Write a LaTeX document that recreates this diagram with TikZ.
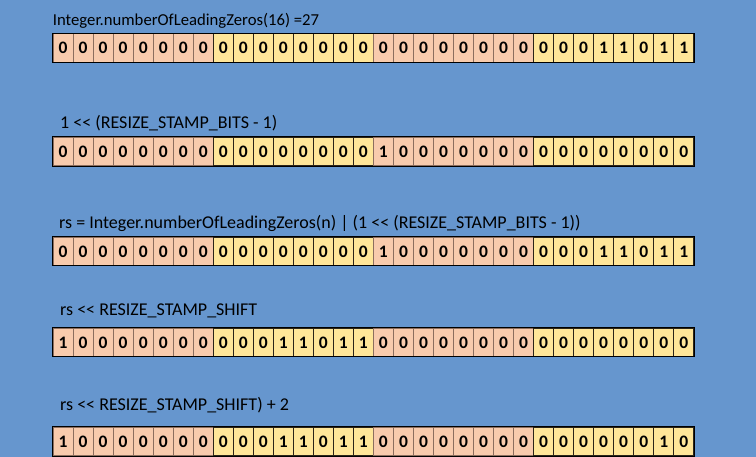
\documentclass[tikz,border=0pt]{standalone}
\usepackage{fontspec}
\setmainfont{Carlito}[Ligatures=TeXOff]
\definecolor{bg}{HTML}{6696CE}
\definecolor{pk}{HTML}{F8CBAD}
\definecolor{yl}{HTML}{FFE699}
\definecolor{pkline}{HTML}{8C6E5E}
\definecolor{ylline}{HTML}{2B2418}
\newcommand\bitrow[3]{%
  \foreach \b [count=\i from 0] in {#3} {
    \pgfmathtruncatemacro\g{mod(floor(\i/8),2)}
    \ifnum\g=0 \def\fc{pk}\def\dc{pkline}\else\def\fc{yl}\def\dc{ylline}\fi
    \node[cell, fill=\fc, draw=\dc] (#1c\i) at ({52.7+20.02*\i},#2) {\b};
  }
  \draw[line width=1pt, black] (#1c0.north west) rectangle (#1c31.south east);
}
\begin{document}
\begin{tikzpicture}[x=1pt,y=-1pt,
  cell/.style={minimum width=20.02pt, minimum height=28.5pt, inner sep=0pt, line width=0.8pt,
    font=\fontsize{17.5}{17.5}\selectfont\bfseries, anchor=north west},
  lab/.style={anchor=base west, inner sep=0pt, font=\fontsize{18}{18}\selectfont}]
\fill[bg] (0,0) rectangle (756,457);
\useasboundingbox (0,0) rectangle (756,457);

\node[lab, font=\fontsize{16.7}{17}\selectfont] (l1) at (52.7,26) {Integer.numberOfLeadingZeros(16) =27};
\bitrow{r1}{33.3}{0,0,0,0,0,0,0,0,0,0,0,0,0,0,0,0,0,0,0,0,0,0,0,0,0,0,0,1,1,0,1,1}

\node[lab] (l2) at (60,128.3) {1 << (RESIZE\_STAMP\_BITS - 1)};
\bitrow{r2}{137}{0,0,0,0,0,0,0,0,0,0,0,0,0,0,0,0,1,0,0,0,0,0,0,0,0,0,0,0,0,0,0,0}

\node[lab] (l3) at (59,228.3) {rs = Integer.numberOfLeadingZeros(n) | (1 << (RESIZE\_STAMP\_BITS - 1))};
\bitrow{r3}{236.7}{0,0,0,0,0,0,0,0,0,0,0,0,0,0,0,0,1,0,0,0,0,0,0,0,0,0,0,1,1,0,1,1}

\node[lab] (l4) at (60,316) {rs << RESIZE\_STAMP\_SHIFT};
\bitrow{r4}{327.7}{1,0,0,0,0,0,0,0,0,0,0,1,1,0,1,1,0,0,0,0,0,0,0,0,0,0,0,0,0,0,0,0}

\node[lab] (l5) at (60,410) {rs << RESIZE\_STAMP\_SHIFT) + 2};
\bitrow{r5}{426.7}{1,0,0,0,0,0,0,0,0,0,0,1,1,0,1,1,0,0,0,0,0,0,0,0,0,0,0,0,0,0,1,0}
\end{tikzpicture}
\end{document}
